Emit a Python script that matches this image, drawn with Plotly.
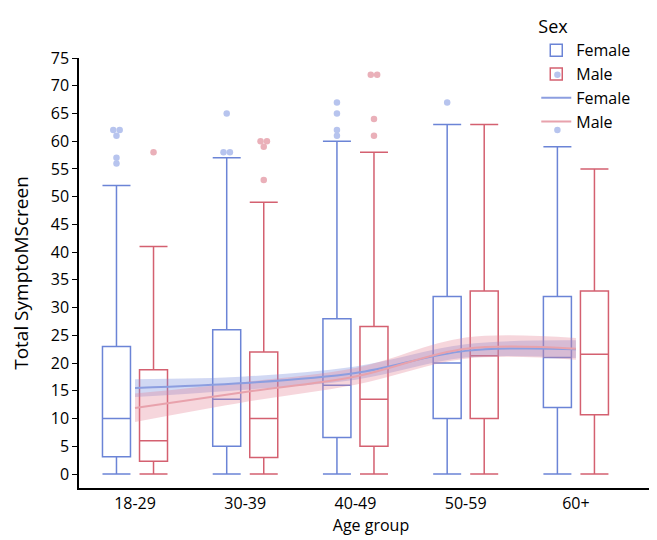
import plotly.graph_objects as go
from collections import Counter

age_groups = ["18-29", "30-39", "40-49", "50-59", "60+"]

# Box statistics (Total SymptoMScreen)
female_q1 = [3.1, 5.0, 6.6, 10.0, 12.0]
female_median = [10.0, 13.5, 16.0, 20.0, 21.0]
female_q3 = [23.0, 26.0, 28.0, 32.0, 32.0]
female_low = [0, 0, 0, 0, 0]
female_high = [52, 57, 60, 63, 59]

male_q1 = [2.3, 3.0, 5.0, 10.0, 10.7]
male_median = [6.0, 10.0, 13.5, 21.3, 21.6]
male_q3 = [18.8, 22.0, 26.6, 33.0, 33.0]
male_low = [0, 0, 0, 0, 0]
male_high = [41, 49, 58, 63, 55]

female_outliers = [[62, 62, 61, 57, 56], [65, 58, 58], [67, 65, 62, 61], [67], [72, 62]]
male_outliers = [[58], [60, 60, 59, 53], [72, 72, 64, 61], [], []]

# Smoothed trend with confidence band
female_fit = [15.5, 16.4, 18.2, 22.2, 22.5]
female_fit_lo = [13.9, 15.2, 17.0, 21.0, 20.9]
female_fit_hi = [17.1, 17.6, 19.4, 23.4, 24.1]
male_fit = [11.9, 14.8, 17.6, 22.6, 22.6]
male_fit_lo = [9.4, 13.0, 16.1, 20.8, 20.6]
male_fit_hi = [14.5, 16.6, 19.1, 24.6, 24.5]

BLUE = "#6b84d6"
RED = "#d46070"
BLUE_PT = "rgb(183,196,238)"
RED_PT = "rgb(234,176,185)"
BLUE_LINE = "rgb(140,158,224)"
RED_LINE = "rgb(232,162,172)"
BLUE_FILL = "rgba(122,142,222,0.35)"
RED_FILL = "rgba(226,128,145,0.32)"

idx = list(range(len(age_groups)))
OFF = 0.168
BW = 0.254

fig = go.Figure()


def outlier_xy(groups, shift):
    xs, ys = [], []
    for g, vals in enumerate(groups):
        cnt = Counter(vals)
        seen = Counter()
        for v in vals:
            n = cnt[v]
            k = seen[v]
            seen[v] += 1
            dx = (k - (n - 1) / 2) * 0.058
            xs.append(g + shift + dx)
            ys.append(v)
    return xs, ys


for name, shift, q1, med, q3, lo, hi, col in [
    ("Female", -OFF, female_q1, female_median, female_q3, female_low, female_high, BLUE),
    ("Male", OFF, male_q1, male_median, male_q3, male_low, male_high, RED),
]:
    fig.add_trace(go.Box(
        x=[i + shift for i in idx], q1=q1, median=med, q3=q3,
        lowerfence=lo, upperfence=hi, name=name,
        width=BW, whiskerwidth=1, boxpoints=False,
        line=dict(color=col, width=1.5), fillcolor="rgba(255,255,255,0)",
    ))

for groups, shift, col in [(female_outliers, -OFF, BLUE_PT), (male_outliers, OFF, RED_PT)]:
    xs, ys = outlier_xy(groups, shift)
    fig.add_trace(go.Scatter(x=xs, y=ys, mode="markers", showlegend=False,
                             marker=dict(color=col, size=6.5), hoverinfo="skip"))

for name, lo, hi, mid, fill, lcol in [
    ("Female", female_fit_lo, female_fit_hi, female_fit, BLUE_FILL, BLUE_LINE),
    ("Male", male_fit_lo, male_fit_hi, male_fit, RED_FILL, RED_LINE),
]:
    fig.add_trace(go.Scatter(x=idx, y=lo, mode="lines", line=dict(width=0, shape="spline"),
                             showlegend=False, hoverinfo="skip"))
    fig.add_trace(go.Scatter(x=idx, y=hi, mode="lines", line=dict(width=0, shape="spline"),
                             fill="tonexty", fillcolor=fill, showlegend=False, hoverinfo="skip"))

fig.add_trace(go.Scatter(x=idx, y=female_fit, mode="lines", name="Female",
                         line=dict(color=BLUE_LINE, width=2, shape="spline")))
fig.add_trace(go.Scatter(x=idx, y=male_fit, mode="lines", name="Male",
                         line=dict(color=RED_LINE, width=2, shape="spline")))

fig.update_layout(
    width=657, height=540,
    margin=dict(l=71, r=2, t=50, b=60, autoexpand=False),
    paper_bgcolor="white", plot_bgcolor="white",
    font=dict(family="Open Sans", size=16, color="black"),
    boxmode="overlay",
    legend=dict(title=dict(text="Sex", font=dict(size=18)), font=dict(size=16),
                x=0.783, xanchor="left", y=1.112, yanchor="top", traceorder="normal",
                tracegroupgap=0, bgcolor="rgba(0,0,0,0)"),
    xaxis=dict(range=[-0.508, 4.79], tickmode="array", tickvals=idx, ticktext=age_groups,
               showline=True, linecolor="black", linewidth=1.5, ticks="", showgrid=False,
               zeroline=False, automargin=False, tickfont=dict(size=16),
               title=dict(text="Age group", font=dict(size=16), standoff=7)),
    yaxis=dict(range=[-2.52, 75], tickmode="linear", tick0=0, dtick=5,
               showline=True, linecolor="black", linewidth=1.5, ticks="outside", ticklen=5,
               tickcolor="black", showgrid=False, zeroline=False, automargin=False,
               tickfont=dict(size=16),
               title=dict(text="Total SymptoMScreen", font=dict(size=19), standoff=19)),
)

fig.write_html("out.html")
